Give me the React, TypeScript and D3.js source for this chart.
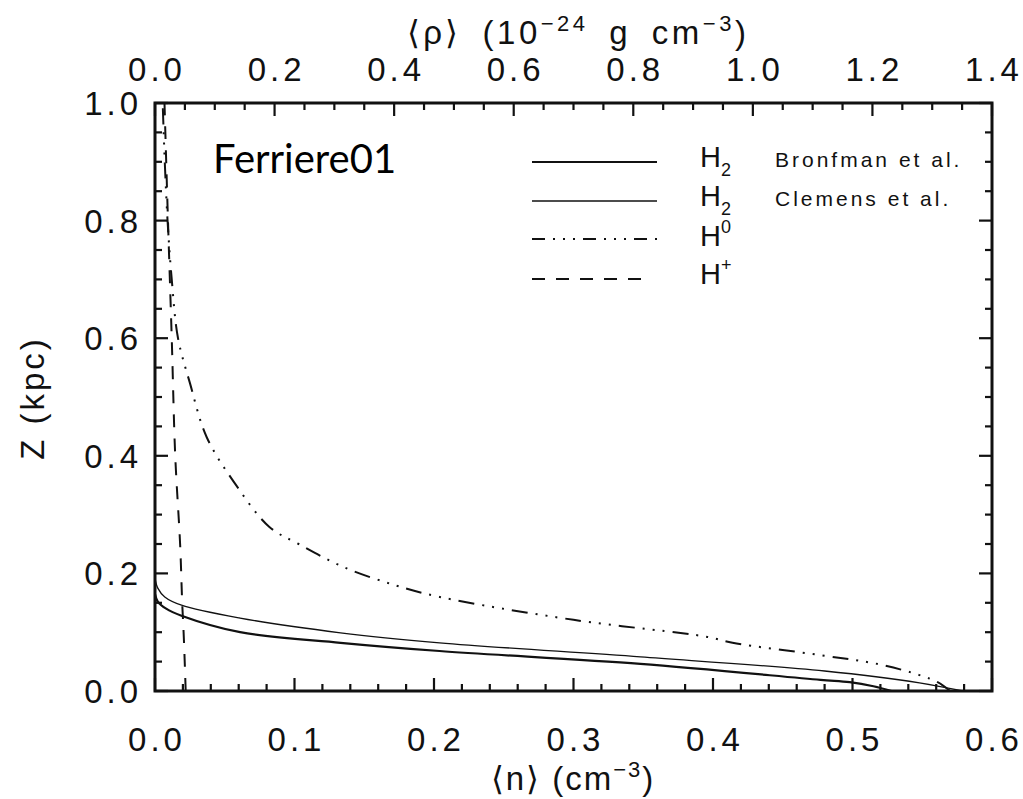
import React from "react";
import * as d3 from "d3";

// ---- data (n in cm^-3, z in kpc) ----
const bronfmanZ = [0, 0.008, 0.015, 0.019, 0.046, 0.068, 0.082, 0.1, 0.128, 0.14, 0.152, 0.165];
const bronfmanN = [0.528, 0.515, 0.498, 0.477, 0.348, 0.204, 0.133, 0.061, 0.019, 0.008, 0.002, 0];

const clemensZ = [0, 0.014, 0.034, 0.058, 0.082, 0.099, 0.124, 0.146, 0.16, 0.175, 0.192];
const clemensN = [0.579, 0.548, 0.48, 0.348, 0.204, 0.133, 0.061, 0.019, 0.007, 0.002, 0];

const h0Z = [0, 0.015, 0.027, 0.045, 0.061, 0.082, 0.092, 0.121, 0.16, 0.18, 0.211, 0.25, 0.279, 0.354, 0.432, 0.524, 0.6, 0.7, 0.8, 0.9, 1.0];
const h0N = [0.57, 0.561, 0.548, 0.52, 0.477, 0.414, 0.396, 0.3, 0.204, 0.172, 0.135, 0.103, 0.082, 0.057, 0.037, 0.025, 0.0165, 0.012, 0.009, 0.007, 0.0055];

const hPlusZ = [0, 0.05, 0.1, 0.15, 0.25, 0.4, 0.6, 0.8, 1.0];
const hPlusN = [0.022, 0.0213, 0.0205, 0.0195, 0.018, 0.0145, 0.012, 0.0093, 0.0068];

const bottomTicks = [0, 0.1, 0.2, 0.3, 0.4, 0.5, 0.6];
const topTicks = [0, 0.2, 0.4, 0.6, 0.8, 1.0, 1.2, 1.4];
const leftTicks = [0, 0.2, 0.4, 0.6, 0.8, 1.0];

const W = 1023, H = 799;
const L = 155, R = 992, T = 103, B = 691;

const x = d3.scaleLinear().domain([0, 0.6]).range([L, R]);
const xTop = d3.scaleLinear().domain([0, 1.4]).range([L, R]);
const y = d3.scaleLinear().domain([0, 1.0]).range([B, T]);

function zip(ns: number[], zs: number[]) {
  return ns.map((n, i) => [n, zs[i]] as [number, number]);
}

const line = d3
  .line<[number, number]>()
  .x((d) => x(d[0]))
  .y((d) => y(d[1]))
  .curve(d3.curveCatmullRom.alpha(0.5));

const tickFont = "'Liberation Sans', Arial, sans-serif";

export default function App() {
  const minorBottom = d3.range(0, 0.6001, 0.02);
  const minorTop = d3.range(0, 1.4001, 0.05);
  const minorLeft = d3.range(0, 1.0001, 0.05);
  const isMajor = (v: number, step: number) => Math.abs(v / step - Math.round(v / step)) < 1e-6;
  const majL = 13, minL = 7;

  const labelStyle: React.CSSProperties = { fontFamily: tickFont, fontSize: 33, letterSpacing: 4 };

  return (
    <svg width={W} height={H} style={{ position: "absolute", left: 0, top: 0, background: "#fff" }}>
      <defs>
        <clipPath id="plot">
          <rect x={L} y={T} width={R - L} height={B - T} />
        </clipPath>
      </defs>
      <rect x={0} y={0} width={W} height={H} fill="#fff" />

      {/* curves */}
      <g clipPath="url(#plot)" fill="none" stroke="#111">
        <path d={line(zip(bronfmanN, bronfmanZ)) || ""} strokeWidth={2.2} />
        <path d={line(zip(clemensN, clemensZ)) || ""} strokeWidth={1.3} />
        <path d={line(zip(h0N, h0Z)) || ""} strokeWidth={2} strokeDasharray="16 8 2 8 2 8 2 8" />
        <path d={line(zip(hPlusN, hPlusZ)) || ""} strokeWidth={2} strokeDasharray="13 11" />
      </g>

      {/* ticks */}
      <g stroke="#111" strokeWidth={2.2}>
        {minorBottom.map((v, i) => {
          const len = isMajor(v, 0.1) ? majL : minL;
          return <line key={"b" + i} x1={x(v)} x2={x(v)} y1={B} y2={B - len} />;
        })}
        {minorTop.map((v, i) => {
          const len = isMajor(v, 0.2) ? majL : minL;
          return <line key={"t" + i} x1={xTop(v)} x2={xTop(v)} y1={T} y2={T + len} />;
        })}
        {minorLeft.map((v, i) => {
          const len = isMajor(v, 0.2) ? majL : minL;
          return (
            <g key={"l" + i}>
              <line x1={L} x2={L + len} y1={y(v)} y2={y(v)} />
              <line x1={R} x2={R - len} y1={y(v)} y2={y(v)} />
            </g>
          );
        })}
      </g>

      {/* frame */}
      <rect x={L} y={T} width={R - L} height={B - T} fill="none" stroke="#111" strokeWidth={3} />

      {/* tick labels */}
      <g fill="#111" style={labelStyle}>
        {bottomTicks.map((v) => (
          <text key={"bl" + v} x={x(v) + 2} y={751} textAnchor="middle">
            {v.toFixed(1)}
          </text>
        ))}
        {topTicks.map((v) => (
          <text key={"tl" + v} x={xTop(v) + 2} y={81} textAnchor="middle">
            {v.toFixed(1)}
          </text>
        ))}
        {leftTicks.map((v) => (
          <text key={"ll" + v} x={142} y={y(v) + 12} textAnchor="end">
            {v.toFixed(1)}
          </text>
        ))}
      </g>

      {/* axis titles */}
      <g fill="#111" style={{ fontFamily: tickFont, fontSize: 33 }}>
        <text x={573} y={790} textAnchor="middle" letterSpacing={2}>
          {"⟨n⟩ (cm"}
          <tspan dy={-13} fontSize={22}>{"−3"}</tspan>
          <tspan dy={13}>{")"}</tspan>
        </text>
        <text x={578} y={44} textAnchor="middle" letterSpacing={3.5} wordSpacing={8}>
          {"⟨ρ⟩ (10"}
          <tspan dy={-13} fontSize={22}>{"−24"}</tspan>
          <tspan dy={13}>{" g cm"}</tspan>
          <tspan dy={-13} fontSize={22}>{"−3"}</tspan>
          <tspan dy={13}>{")"}</tspan>
        </text>
        <text transform="translate(44,398) rotate(-90)" textAnchor="middle" letterSpacing={3}>
          Z (kpc)
        </text>
      </g>

      {/* annotation */}
      <text x={213} y={173} style={{ fontFamily: "Lato, 'Open Sans', sans-serif", fontSize: 40 }} fill="#000">
        Ferriere01
      </text>

      {/* legend */}
      <g stroke="#111" fill="none">
        <line x1={532} x2={657} y1={162} y2={162} strokeWidth={2} />
        <line x1={532} x2={657} y1={201} y2={201} strokeWidth={1.6} />
        <line x1={532} x2={657} y1={239} y2={239} strokeWidth={2} strokeDasharray="13 8 2 8 2 8 2 8" />
        <line x1={532} x2={648} y1={279} y2={279} strokeWidth={2} strokeDasharray="13 11" />
      </g>
      <g fill="#111" style={{ fontFamily: tickFont }}>
        <text x={700} y={167} fontSize={29}>
          H<tspan dy={9} fontSize={18}>2</tspan>
        </text>
        <text x={700} y={206} fontSize={29}>
          H<tspan dy={9} fontSize={18}>2</tspan>
        </text>
        <text x={700} y={246} fontSize={29}>
          H<tspan dy={-13} fontSize={18}>0</tspan>
        </text>
        <text x={700} y={284} fontSize={29}>
          H<tspan dy={-13} fontSize={18}>+</tspan>
        </text>
        <text x={775} y={167} fontSize={21} letterSpacing={3}>Bronfman et al.</text>
        <text x={775} y={206} fontSize={21} letterSpacing={3}>Clemens et al.</text>
      </g>
    </svg>
  );
}
